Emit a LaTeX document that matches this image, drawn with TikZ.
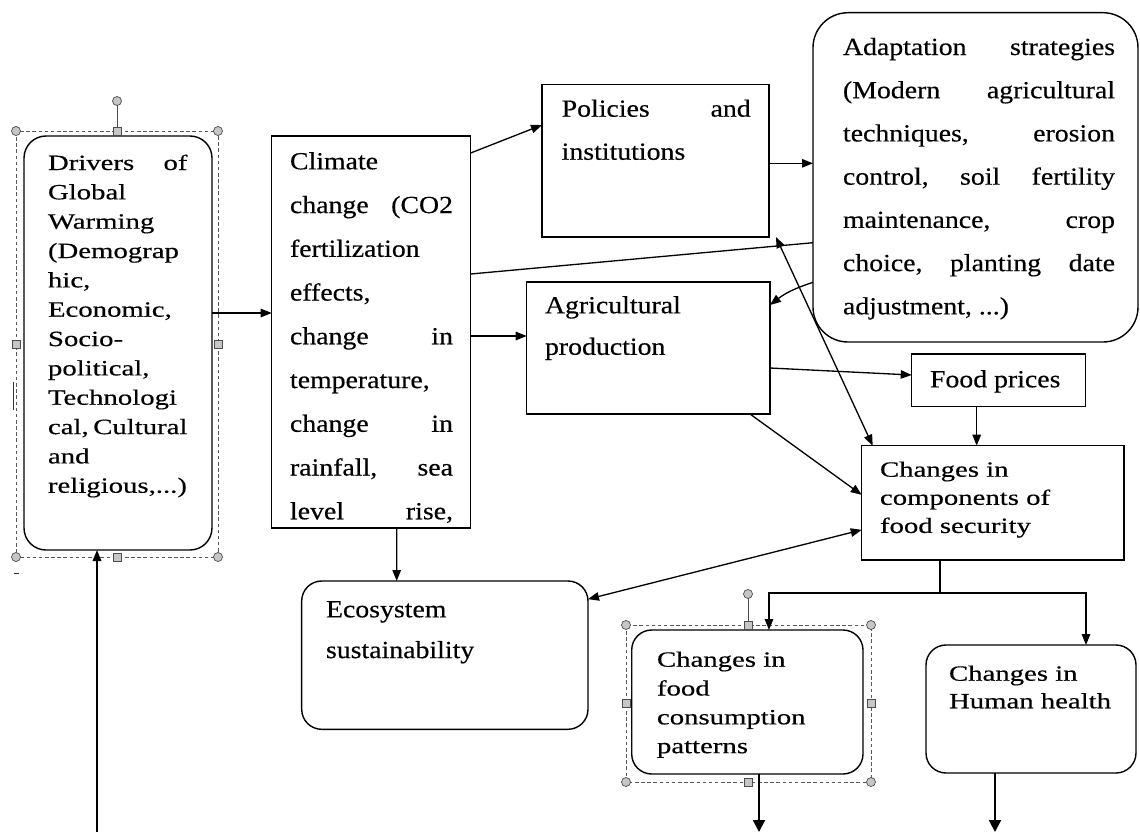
\documentclass[tikz,border=0pt]{standalone}
\usepackage{fontspec}
\setmainfont{Liberation Serif}[FakeStretch=1.32, FakeBold=0.4]
\newfontfamily\tallserif{Liberation Serif}[FakeStretch=1.13, FakeBold=0.4]
\usetikzlibrary{calc,arrows.meta}

\newlength{\px}
\setlength{\px}{0.02cm}
% text block: left pad, width, right pad, height, first baseline, lines
\newcommand{\boxtxt}[6]{\hspace*{#1\px}\parbox[t][#4\px][t]{#2\px}{\rule{0pt}{#5\px}#6}\hspace*{#3\px}}

\tikzset{
  box/.style={draw, line width=0.8pt, anchor=north west, inner sep=0pt, outer sep=0pt},
  rbox/.style={box, rounded corners=#1},
  txtS/.style={font=\fontsize{12.4}{#1}\selectfont},
  txtL/.style={font=\tallserif\fontsize{14}{#1}\selectfont},
  arr/.style={line width=0.75pt, ->},
  outarr/.style={line width=1.2pt, -{Triangle[length=0.24cm,width=0.24cm]}},
  selframe/.style={gray!70!black, line width=0.4pt, dash pattern=on 2pt off 1.5pt},
  handle/.style={fill=gray!45, draw=gray!60!black, line width=0.4pt}
}

\begin{document}
\begin{tikzpicture}[x=0.02cm, y=-0.02cm, >={Triangle[length=0.22cm,width=0.17cm]}]
\useasboundingbox (0,0) rectangle (1140,832);

% selection frames (Word handles)
\draw[selframe] (16,131) rectangle (218,557);
\draw[selframe] (626,625) rectangle (871,782);
\draw[gray!60!black, line width=0.5pt] (117,131) -- (117,101);
\draw[gray!60!black, line width=0.5pt] (748,625) -- (748,594);

% boxes
\node[rbox=0.44cm, txtS=16.7pt] (drivers) at (24,136) {\boxtxt{24}{139.5}{24.5}{414}{34}{Drivers\hfill of\\ Global\\ Warming\\ (Demograp\\ hic,\\ Economic,\\ Socio-\\ political,\\ Technologi\\ cal,\hfill Cultural\\ and\\ religious,...)}};
\node[box, txtL=24.9pt] (climate) at (271.7,136) {\boxtxt{18.3}{163}{17.7}{392}{33.3}{Climate\\ change\hfill (CO2\\ fertilization\\ effects,\\ change\hfill in\\ temperature,\\ change\hfill in\\ rainfall,\hfill sea\\ level\hfill rise,}};
\node[box, txtL=24.5pt] (policies) at (542,84.3) {\boxtxt{19.7}{189}{18.3}{152.7}{32.4}{Policies\hfill and\\ institutions}};
\node[rbox=0.7cm, txtL=24.6pt] (adapt) at (813,12.7) {\boxtxt{30}{272}{23}{329.3}{42.3}{Adaptation\hfill strategies\\ (Modern\hfill agricultural\\ techniques,\hfill erosion\\ control,\hfill soil\hfill fertility\\ maintenance,\hfill crop\\ choice,\hfill planting\hfill date\\ adjustment, ...)}};
\node[box, txtL=23.6pt] (agri) at (526.7,282) {\boxtxt{18.3}{206.7}{18.3}{132}{31.3}{Agricultural\\ production}};
\node[box, txtL=16pt] (prices) at (911.7,354) {\boxtxt{18.3}{137.4}{18.3}{52.7}{33.3}{Food prices}};
\node[box, txtS=16pt] (foodsec) at (861.7,445.7) {\boxtxt{18.3}{225.7}{18.3}{114.3}{31}{Changes in\\ components of\\ food security}};
\node[rbox=0.4cm, txtL=23.2pt] (eco) at (301.7,581) {\boxtxt{24.3}{237.7}{24.3}{148.3}{36.3}{Ecosystem\\ sustainability}};
\node[rbox=0.4cm, txtS=16.4pt] (consump) at (631.7,630) {\boxtxt{25.3}{180.7}{25.3}{144}{36.7}{Changes in\\ food\\ consumption\\ patterns}};
\node[rbox=0.4cm, txtS=15.7pt] (health) at (926,645) {\boxtxt{23}{164}{23}{128}{35.7}{Changes in\\ Human health}};

% connectors
\draw[arr] ($(drivers.east)+(0,-30)$) -- ($(climate.west)+(0,-19)$);
\draw[arr] ($(climate.east)+(0,-179)$) -- ($(policies.west)+(0,-35.65)$);
\draw[arr] ($(climate.east)+(0,4)$) -- ($(agri.west)+(0,-12)$);
\draw[line width=0.75pt] ($(climate.east)+(0,-58)$) -- ($(adapt.west)+(0,65.35)$);
\draw[arr] ($(climate.south)+(25.5,0)$) -- ($(eco.north)+(-48.15,0)$);
\draw[arr] ($(policies.east)+(0,2.65)$) -- ($(adapt.west)+(0,-14.05)$);
\draw[arr] ($(adapt.west)+(0,105)$) to[bend right=10] ($(agri.east)+(0,-43)$);
\draw[arr, <->] ($(policies.south east)+(7,0)$) -- ($(foodsec.north west)+(11,0)$);
\draw[arr] ($(agri.east)+(0,20)$) -- ($(prices.west)+(0,-5.35)$);
\draw[arr] ($(agri.south east)+(-20,0)$) -- ($(foodsec.west)+(0,-8)$);
\coordinate (pf) at ($(prices.south)+(-22,0)$);
\draw[arr] (pf) -- (pf |- foodsec.north);
\draw[arr, <->] ($(eco.east)+(0,-56)$) -- ($(foodsec.west)+(0,27)$);

\coordinate (fsplit) at ($(foodsec.south)+(-52.85,33)$);
\draw[line width=0.75pt] (foodsec.south -| fsplit) -- (fsplit);
\draw[arr] (fsplit) -| ($(consump.north)+(21.65,0)$);
\draw[arr] (fsplit) -| ($(health.north)+(55,0)$);

\coordinate (cout) at (759,832);
\coordinate (hout) at (995,832);
\coordinate (din) at (97,832);
\draw[outarr] (consump.south -| cout) -- (cout);
\draw[outarr] (health.south -| hout) -- (hout);
\draw[arr, line width=1pt] (din) -- (din |- drivers.south);

% handles
\foreach \hx/\hy in {16/131, 218/131, 16/557, 218/557, 117/101, 626/625, 871/625, 626/782, 871/782, 748/594}
  \filldraw[handle] (\hx,\hy) circle (0.09cm);
\foreach \hx/\hy in {117/131, 117/557, 16/344, 218/344, 748/625, 748/782, 626/703.5, 871/703.5}
  \filldraw[handle] ($(\hx,\hy)+(-4,-4)$) rectangle ++(8,8);

% stray marks
\draw[gray!40!black, line width=0.5pt] (13,382) -- (13,410);
\draw[gray!40!black, line width=0.5pt] (14,573) -- (19,573);

\end{tikzpicture}
\end{document}
